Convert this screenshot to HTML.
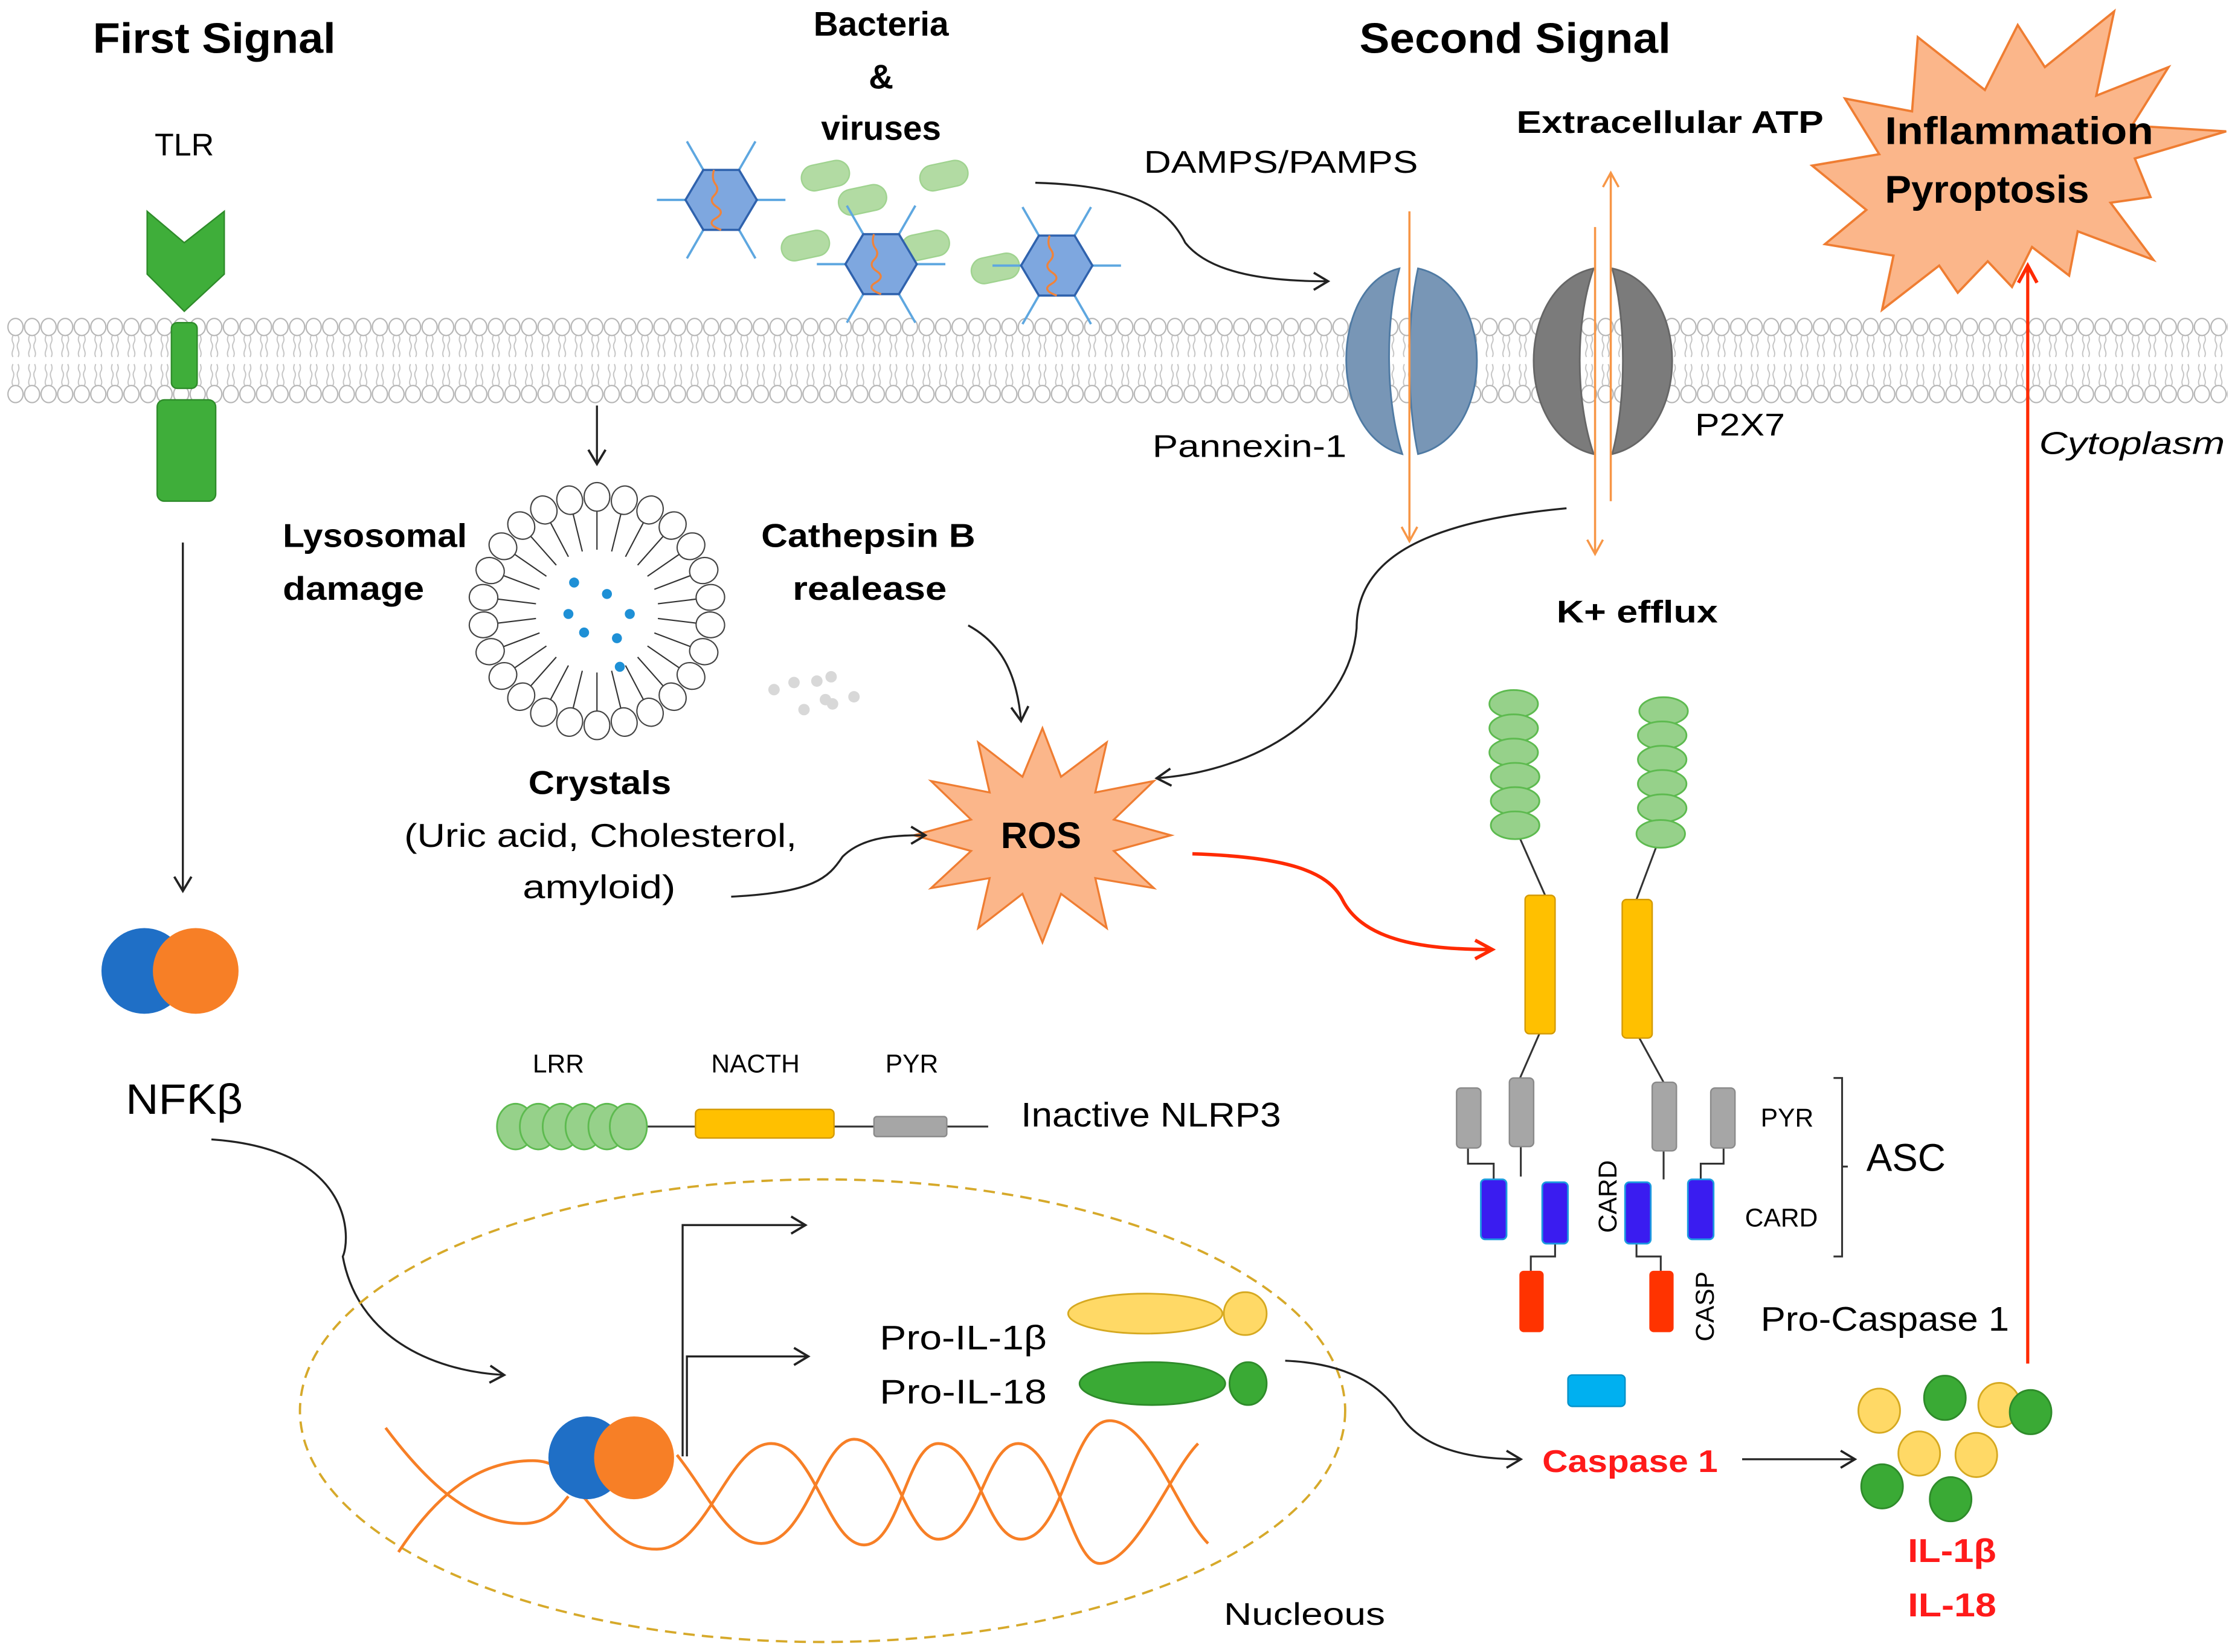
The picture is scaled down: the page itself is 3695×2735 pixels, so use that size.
<!DOCTYPE html>
<html><head><meta charset="utf-8"><style>
html,body{margin:0;padding:0;background:#fff;}
svg{display:block;}
text{font-family:"Liberation Sans",sans-serif;}
.b{font-weight:bold;}
</style></head><body>
<svg width="3695" height="2735" viewBox="0 0 1563 1157" xmlns="http://www.w3.org/2000/svg">
<defs>
<pattern id="mem" x="5" y="0" width="11.6" height="1157" patternUnits="userSpaceOnUse">
<ellipse cx="5.8" cy="229" rx="5.3" ry="6" fill="#fff" stroke="#b5b5b5" stroke-width="0.9"/>
<ellipse cx="5.8" cy="276" rx="5.3" ry="6" fill="#fff" stroke="#b5b5b5" stroke-width="0.9"/>
<path d="M4,235 q-1.2,3 0,5 t0,5 t0,5 M7.6,235 q1.2,3 0,5 t0,5 t0,5 M4,255 q-1.2,3 0,5 t0,5 t0,5 M7.6,255 q1.2,3 0,5 t0,5 t0,5" fill="none" stroke="#c2c2c2" stroke-width="0.8"/>
</pattern>
<marker id="ah" markerWidth="14" markerHeight="14" refX="11" refY="7" orient="auto" markerUnits="userSpaceOnUse"><path d="M1,1 L11,7 L1,13" fill="none" stroke="#222" stroke-width="1.6"/></marker>
<marker id="ao" markerWidth="14" markerHeight="14" refX="11" refY="7" orient="auto" markerUnits="userSpaceOnUse"><path d="M1,1.5 L11,7 L1,12.5" fill="none" stroke="#f79646" stroke-width="1.5"/></marker>
<marker id="ar" markerWidth="16" markerHeight="16" refX="13" refY="8" orient="auto" markerUnits="userSpaceOnUse"><path d="M1,1.5 L13,8 L1,14.5" fill="none" stroke="#ff2a00" stroke-width="2.4"/></marker>
<g id="hex">
<g stroke="#5ea7e0" stroke-width="1.6"><line x1="-25" y1="0" x2="-45" y2="0"/><line x1="25" y1="0" x2="45" y2="0"/><line x1="-12.5" y1="-21" x2="-24" y2="-41"/><line x1="12.5" y1="-21" x2="24" y2="-41"/><line x1="-12.5" y1="21" x2="-24" y2="41"/><line x1="12.5" y1="21" x2="24" y2="41"/></g>
<polygon points="-25,0 -12.5,-21 12.5,-21 25,0 12.5,21 -12.5,21" fill="#7ea7df" stroke="#2f62ad" stroke-width="1.5"/>
<path d="M-5,-21 q-2,6 1,10 t-1,8 t2,8 t-1,8 t4,8" fill="none" stroke="#f0833a" stroke-width="1.4"/>
</g>
<g id="pill"><rect x="-17" y="-9" width="34" height="18" rx="9" fill="#aad89a" stroke="#96cf84" stroke-width="1" opacity="0.9"/></g>
<g id="lh"><line x1="0" y1="-71" x2="0" y2="-43" stroke="#333" stroke-width="0.9"/><ellipse cx="0" cy="-80" rx="9" ry="10" fill="#fff" stroke="#444" stroke-width="0.9"/></g>
<g id="ov"><ellipse cx="0" cy="0" rx="17" ry="9.7" fill="#96d18a" stroke="#5dba4f" stroke-width="1.2"/></g>
</defs>

<!-- membrane -->
<rect x="5" y="220" width="1555" height="64" fill="url(#mem)"/>

<!-- titles -->
<text x="65" y="37" class="b" font-size="30" textLength="170" lengthAdjust="spacingAndGlyphs">First Signal</text>
<text x="952" y="37" class="b" font-size="30" textLength="218" lengthAdjust="spacingAndGlyphs">Second Signal</text>
<text x="617" y="25" class="b" font-size="24" text-anchor="middle">Bacteria</text>
<text x="617" y="62" class="b" font-size="24" text-anchor="middle">&amp;</text>
<text x="617" y="98" class="b" font-size="24" text-anchor="middle">viruses</text>
<text x="129" y="109" font-size="22" text-anchor="middle">TLR</text>
<text x="801" y="121" font-size="22" textLength="192" lengthAdjust="spacingAndGlyphs">DAMPS/PAMPS</text>
<text x="1062" y="93" class="b" font-size="22" textLength="215" lengthAdjust="spacingAndGlyphs">Extracellular ATP</text>

<!-- TLR -->
<polygon points="103,148 129,170 157,148 157,192 129,218 103,192" fill="#3fae3a" stroke="#2e8b2a" stroke-width="1"/>
<rect x="120" y="226" width="18" height="46" rx="4" fill="#3fae3a" stroke="#2e8b2a"/>
<rect x="110" y="280" width="41" height="71" rx="5" fill="#3fae3a" stroke="#2e8b2a"/>
<line x1="128" y1="380" x2="128" y2="624" stroke="#222" stroke-width="1.4" marker-end="url(#ah)"/>
<circle cx="101" cy="680" r="30" fill="#1f6fc6"/>
<circle cx="137" cy="680" r="30" fill="#f77f26"/>
<text x="88" y="780" font-size="30" textLength="82" lengthAdjust="spacingAndGlyphs">NFƘβ</text>
<path d="M148,798 C250,805 245,870 240,880 C250,935 300,960 353,963" fill="none" stroke="#222" stroke-width="1.4" marker-end="url(#ah)"/>

<!-- bacteria & viruses -->
<use href="#pill" transform="translate(578,123) rotate(-12)"/>
<use href="#pill" transform="translate(661,123) rotate(-12)"/>
<use href="#pill" transform="translate(604,140) rotate(-12)"/>
<use href="#pill" transform="translate(564,172) rotate(-12)"/>
<use href="#pill" transform="translate(648,172) rotate(-12)"/>
<use href="#pill" transform="translate(697,188) rotate(-12)"/>
<use href="#hex" transform="translate(505,140)"/>
<use href="#hex" transform="translate(617,185)"/>
<use href="#hex" transform="translate(740,186)"/>
<path d="M725,128 C800,130 820,150 830,170 C850,195 900,197 930,197" fill="none" stroke="#222" stroke-width="1.4" marker-end="url(#ah)"/>

<!-- channels -->
<path d="M980,188 C930,200 930,305 982,318 C970,280 970,225 980,188 Z" fill="#7896b6" stroke="#4f7aa3" stroke-width="1.2"/>
<path d="M993,188 C1048,200 1048,305 993,318 C985,280 985,225 993,188 Z" fill="#7896b6" stroke="#4f7aa3" stroke-width="1.2"/>
<path d="M1116,188 C1060,200 1060,305 1116,318 C1103,280 1103,225 1116,188 Z" fill="#7b7b7b" stroke="#666" stroke-width="1.2"/>
<path d="M1129,188 C1185,200 1185,305 1129,318 C1139,280 1139,225 1129,188 Z" fill="#7b7b7b" stroke="#666" stroke-width="1.2"/>
<line x1="987" y1="148" x2="987" y2="379" stroke="#f79646" stroke-width="1.5" marker-end="url(#ao)"/>
<line x1="1117" y1="159" x2="1117" y2="388" stroke="#f79646" stroke-width="1.5" marker-end="url(#ao)"/>
<line x1="1128" y1="351" x2="1128" y2="121" stroke="#f79646" stroke-width="1.5" marker-end="url(#ao)"/>
<text x="807" y="320" font-size="22" textLength="136" lengthAdjust="spacingAndGlyphs">Pannexin-1</text>
<text x="1187" y="305" font-size="22" textLength="63" lengthAdjust="spacingAndGlyphs">P2X7</text>
<text x="1428" y="318" font-size="22" font-style="italic" textLength="130" lengthAdjust="spacingAndGlyphs">Cytoplasm</text>
<text x="1090" y="436" class="b" font-size="22" textLength="113" lengthAdjust="spacingAndGlyphs">K+ efflux</text>

<!-- inflammation star -->
<polygon points="1480.5,8 1468,67 1518.6,47 1493,88 1559,92 1495,111 1506,138 1478,142 1508,182 1455,162 1449,193 1423,173 1409,201 1392,183 1371,205 1358,186 1318,217 1326,179 1278,171 1307,147 1269,116 1316,108 1292,69 1339,78 1343,26 1390,63 1413,17.5 1432,47" fill="#fbb68a" stroke="#ef7d32" stroke-width="1.6"/>
<text x="1320" y="101" class="b" font-size="27" textLength="188" lengthAdjust="spacingAndGlyphs">Inflammation</text>
<text x="1320" y="142" class="b" font-size="27" textLength="143" lengthAdjust="spacingAndGlyphs">Pyroptosis</text>
<line x1="1420" y1="955" x2="1420" y2="186" stroke="#ff2a00" stroke-width="2.2" marker-end="url(#ar)"/>

<!-- lysosome -->
<line x1="418" y1="284" x2="418" y2="325" stroke="#222" stroke-width="1.4" marker-end="url(#ah)"/>
<g transform="translate(418,428)">
<use href="#lh" transform="rotate(0)"/><use href="#lh" transform="rotate(13.85)"/><use href="#lh" transform="rotate(27.7)"/><use href="#lh" transform="rotate(41.5)"/><use href="#lh" transform="rotate(55.4)"/><use href="#lh" transform="rotate(69.2)"/><use href="#lh" transform="rotate(83.1)"/><use href="#lh" transform="rotate(96.9)"/><use href="#lh" transform="rotate(110.8)"/><use href="#lh" transform="rotate(124.6)"/><use href="#lh" transform="rotate(138.5)"/><use href="#lh" transform="rotate(152.3)"/><use href="#lh" transform="rotate(166.2)"/><use href="#lh" transform="rotate(180)"/><use href="#lh" transform="rotate(193.8)"/><use href="#lh" transform="rotate(207.7)"/><use href="#lh" transform="rotate(221.5)"/><use href="#lh" transform="rotate(235.4)"/><use href="#lh" transform="rotate(249.2)"/><use href="#lh" transform="rotate(263.1)"/><use href="#lh" transform="rotate(276.9)"/><use href="#lh" transform="rotate(290.8)"/><use href="#lh" transform="rotate(304.6)"/><use href="#lh" transform="rotate(318.5)"/><use href="#lh" transform="rotate(332.3)"/><use href="#lh" transform="rotate(346.2)"/>
</g>
<g fill="#1e90d6"><circle cx="402" cy="408" r="3.5"/><circle cx="425" cy="416" r="3.5"/><circle cx="398" cy="430" r="3.5"/><circle cx="441" cy="430" r="3.5"/><circle cx="409" cy="443" r="3.5"/><circle cx="432" cy="447" r="3.5"/><circle cx="434" cy="467" r="3.5"/></g>
<g fill="#d8d8d8"><circle cx="542" cy="483" r="4"/><circle cx="556" cy="478" r="4"/><circle cx="572" cy="477" r="4"/><circle cx="582" cy="474" r="4"/><circle cx="578" cy="490" r="4"/><circle cx="563" cy="497" r="4"/><circle cx="598" cy="488" r="4"/><circle cx="583" cy="493" r="4"/></g>
<text x="198" y="383" class="b" font-size="23" textLength="129" lengthAdjust="spacingAndGlyphs">Lysosomal</text>
<text x="198" y="420" class="b" font-size="23" textLength="99" lengthAdjust="spacingAndGlyphs">damage</text>
<text x="533" y="383" class="b" font-size="23" textLength="150" lengthAdjust="spacingAndGlyphs">Cathepsin B</text>
<text x="555" y="420" class="b" font-size="23" textLength="108" lengthAdjust="spacingAndGlyphs">realease</text>
<text x="370" y="556" class="b" font-size="23" textLength="100" lengthAdjust="spacingAndGlyphs">Crystals</text>
<text x="283" y="593" font-size="23" textLength="275" lengthAdjust="spacingAndGlyphs">(Uric acid, Cholesterol,</text>
<text x="366" y="629" font-size="23" textLength="107" lengthAdjust="spacingAndGlyphs">amyloid)</text>

<!-- ROS -->
<polygon points="820,585 780,596 808,622 767,615 775,650 743,626 730,660 716,626 685,650 693,615 652,622 680,596 640,585 680,574 652,547 693,555 685,520 716,544 730,510 743,544 775,520 767,555 808,547 780,574" fill="#fbb68a" stroke="#ef7d32" stroke-width="1.4"/>
<text x="729" y="594" class="b" font-size="26" text-anchor="middle">ROS</text>
<path d="M678,438 C700,450 712,470 715,505" fill="none" stroke="#222" stroke-width="1.4" marker-end="url(#ah)"/>
<path d="M1097,356 C1000,365 950,390 950,440 C945,500 880,540 810,545" fill="none" stroke="#222" stroke-width="1.4" marker-end="url(#ah)"/>
<path d="M512,628 C570,625 580,615 590,600 C605,585 630,585 648,585" fill="none" stroke="#222" stroke-width="1.4" marker-end="url(#ah)"/>
<path d="M835,598 C900,600 930,610 940,630 C955,660 1000,665 1045,665" fill="none" stroke="#ff2a00" stroke-width="2.4" marker-end="url(#ar)"/>

<!-- active NLRP3 -->
<g stroke="#333" stroke-width="1.3" fill="none">
<line x1="1063" y1="584" x2="1082" y2="627"/><line x1="1161" y1="590" x2="1146" y2="630"/>
<line x1="1078" y1="724" x2="1064" y2="756"/><line x1="1148" y1="727" x2="1165" y2="758"/>
<line x1="1065" y1="803" x2="1065" y2="824"/><line x1="1165" y1="806" x2="1165" y2="826"/>
<path d="M1028,803 V815 H1046 V826"/><path d="M1207,803 V815 H1191 V826"/>
<path d="M1089,870 V880 H1072 V890"/><path d="M1146,870 V880 H1163 V890"/>
</g>
<use href="#ov" transform="translate(1060,493)"/><use href="#ov" transform="translate(1060,510)"/><use href="#ov" transform="translate(1060,527)"/><use href="#ov" transform="translate(1061,544)"/><use href="#ov" transform="translate(1061,561)"/><use href="#ov" transform="translate(1061,578)"/>
<use href="#ov" transform="translate(1165,498)"/><use href="#ov" transform="translate(1164,515)"/><use href="#ov" transform="translate(1164,532)"/><use href="#ov" transform="translate(1164,549)"/><use href="#ov" transform="translate(1164,566)"/><use href="#ov" transform="translate(1163,584)"/>
<rect x="1068" y="627" width="21" height="97" rx="3" fill="#ffc000" stroke="#d49a00"/>
<rect x="1136" y="630" width="21" height="97" rx="3" fill="#ffc000" stroke="#d49a00"/>
<g fill="#a6a6a6" stroke="#8a8a8a"><rect x="1020" y="762" width="17" height="42" rx="3"/><rect x="1057" y="755" width="17" height="48" rx="3"/><rect x="1157" y="758" width="17" height="48" rx="3"/><rect x="1198" y="762" width="17" height="42" rx="3"/></g>
<g fill="#3a1cf0" stroke="#1c9be0" stroke-width="1.2"><rect x="1037" y="826" width="18" height="42" rx="3"/><rect x="1080" y="828" width="18" height="43" rx="3"/><rect x="1138" y="828" width="18" height="43" rx="3"/><rect x="1182" y="826" width="18" height="42" rx="3"/></g>
<g fill="#ff3300"><rect x="1064" y="890" width="17" height="43" rx="3"/><rect x="1155" y="890" width="17" height="43" rx="3"/></g>
<rect x="1098" y="963" width="40" height="22" rx="3" fill="#00b0f0" stroke="#0090c8"/>
<text x="1233" y="789" font-size="18">PYR</text>
<text x="1222" y="859" font-size="18">CARD</text>
<text x="1307" y="820" font-size="27">ASC</text>
<path d="M1284,755 H1290 V880 H1284 M1290,817 H1294" fill="none" stroke="#333" stroke-width="1.3"/>
<text transform="translate(1132,838) rotate(-90)" font-size="18" text-anchor="middle">CARD</text>
<text transform="translate(1200,915) rotate(-90)" font-size="18" text-anchor="middle">CASP</text>
<text x="1233" y="932" font-size="24" textLength="174" lengthAdjust="spacingAndGlyphs">Pro-Caspase 1</text>

<!-- inactive NLRP3 -->
<line x1="440" y1="789" x2="692" y2="789" stroke="#333" stroke-width="1.3"/>
<g><ellipse cx="361" cy="789" rx="13" ry="16" fill="#96d18a" stroke="#5dba4f" stroke-width="1.2"/><ellipse cx="377" cy="789" rx="13" ry="16" fill="#96d18a" stroke="#5dba4f" stroke-width="1.2"/><ellipse cx="393" cy="789" rx="13" ry="16" fill="#96d18a" stroke="#5dba4f" stroke-width="1.2"/><ellipse cx="409" cy="789" rx="13" ry="16" fill="#96d18a" stroke="#5dba4f" stroke-width="1.2"/><ellipse cx="425" cy="789" rx="13" ry="16" fill="#96d18a" stroke="#5dba4f" stroke-width="1.2"/><ellipse cx="440" cy="789" rx="13" ry="16" fill="#96d18a" stroke="#5dba4f" stroke-width="1.2"/></g>
<rect x="487" y="777" width="97" height="20" rx="3" fill="#ffc000" stroke="#d49a00"/>
<rect x="612" y="782" width="51" height="14" rx="2" fill="#a6a6a6" stroke="#8a8a8a"/>
<text x="373" y="751" font-size="18">LRR</text>
<text x="498" y="751" font-size="18">NACTH</text>
<text x="620" y="751" font-size="18">PYR</text>
<text x="715" y="789" font-size="24" textLength="182" lengthAdjust="spacingAndGlyphs">Inactive NLRP3</text>

<!-- nucleus -->
<ellipse cx="576" cy="988" rx="366" ry="162" fill="none" stroke="#d6a92a" stroke-width="1.6" stroke-dasharray="8,5"/>
<g fill="none" stroke="#f77f26" stroke-width="2">
<path d="M270,1000 C300,1040 330,1067 366,1067 C385,1067 392,1055 398,1048"/>
<path d="M279,1087 C310,1040 340,1023 373,1023 C395,1023 400,1040 410,1050"/>
<path d="M410,1050 C430,1075 440,1085 460,1085 C495,1085 510,1011 540,1011 C570,1011 580,1082 605,1082 C630,1082 635,1011 657,1011 C685,1011 690,1078 715,1078 C745,1078 750,995 777,995 C805,995 825,1060 846,1081"/>
<path d="M474,1019 C495,1045 510,1081 533,1081 C565,1081 575,1008 598,1008 C625,1008 635,1078 657,1078 C685,1078 690,1011 713,1011 C740,1011 750,1095 770,1095 C795,1095 820,1030 839,1011"/>
</g>
<ellipse cx="411" cy="1021" rx="27" ry="29" fill="#1f6fc6"/>
<ellipse cx="444" cy="1021" rx="28" ry="29" fill="#f77f26"/>
<path d="M478,1020 V858 H564" fill="none" stroke="#222" stroke-width="1.4" marker-end="url(#ah)"/>
<path d="M481,1020 V950 H566" fill="none" stroke="#222" stroke-width="1.4" marker-end="url(#ah)"/>
<text x="616" y="945" font-size="24" textLength="117" lengthAdjust="spacingAndGlyphs">Pro-IL-1β</text>
<text x="616" y="983" font-size="24" textLength="117" lengthAdjust="spacingAndGlyphs">Pro-IL-18</text>
<ellipse cx="802" cy="920" rx="54" ry="14" fill="#ffd966" stroke="#d6a920" stroke-width="1.2"/>
<ellipse cx="872" cy="920" rx="15" ry="15" fill="#ffd966" stroke="#d6a920" stroke-width="1.2"/>
<ellipse cx="807" cy="969" rx="51" ry="15" fill="#3aaa35" stroke="#2e8b2a" stroke-width="1.2"/>
<ellipse cx="874" cy="969" rx="13" ry="15" fill="#3aaa35" stroke="#2e8b2a" stroke-width="1.2"/>
<text x="857" y="1138" font-size="22" textLength="113" lengthAdjust="spacingAndGlyphs">Nucleous</text>
<path d="M900,953 C950,955 970,975 980,990 C995,1015 1030,1022 1065,1022" fill="none" stroke="#222" stroke-width="1.4" marker-end="url(#ah)"/>
<text x="1080" y="1031" class="b" font-size="22" fill="#ff1a1a" textLength="123" lengthAdjust="spacingAndGlyphs">Caspase 1</text>
<line x1="1220" y1="1022" x2="1299" y2="1022" stroke="#222" stroke-width="1.4" marker-end="url(#ah)"/>

<!-- IL balls -->
<g stroke-width="1.2">
<ellipse cx="1316" cy="988" rx="14.6" ry="15.5" fill="#ffd966" stroke="#d6a920"/>
<ellipse cx="1362" cy="979" rx="14.6" ry="15.5" fill="#3aaa35" stroke="#2e8b2a"/>
<ellipse cx="1400" cy="984" rx="14.6" ry="15.5" fill="#ffd966" stroke="#d6a920"/>
<ellipse cx="1422" cy="989" rx="14.6" ry="15.5" fill="#3aaa35" stroke="#2e8b2a"/>
<ellipse cx="1344" cy="1018" rx="14.6" ry="15.5" fill="#ffd966" stroke="#d6a920"/>
<ellipse cx="1384" cy="1019" rx="14.6" ry="15.5" fill="#ffd966" stroke="#d6a920"/>
<ellipse cx="1318" cy="1041" rx="14.6" ry="15.5" fill="#3aaa35" stroke="#2e8b2a"/>
<ellipse cx="1366" cy="1050" rx="14.6" ry="15.5" fill="#3aaa35" stroke="#2e8b2a"/>
</g>
<text x="1336" y="1094" class="b" font-size="23" fill="#ff1a1a" textLength="62" lengthAdjust="spacingAndGlyphs">IL-1β</text>
<text x="1336" y="1132" class="b" font-size="23" fill="#ff1a1a" textLength="62" lengthAdjust="spacingAndGlyphs">IL-18</text>
</svg>
</body></html>
